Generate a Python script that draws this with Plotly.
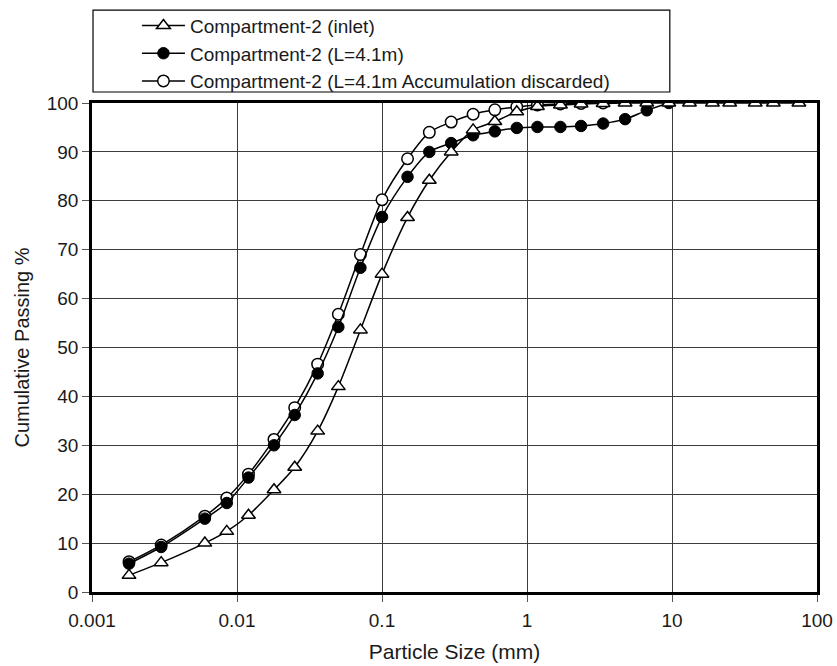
import plotly.graph_objects as go

# Particle sizes (mm)
size_inlet = [0.0018, 0.003, 0.006, 0.0085, 0.012, 0.018, 0.025, 0.036, 0.05, 0.071,
              0.1, 0.15, 0.212, 0.3, 0.425, 0.6, 0.85, 1.18, 1.7, 2.36, 3.35, 4.75,
              6.7, 9.5, 13.2, 19, 25, 37.5, 50, 75]
pass_inlet = [3.4, 6.0, 10.0, 12.4, 15.7, 20.9, 25.5, 32.9, 42.0, 53.6,
              65.0, 76.6, 84.2, 90.0, 94.5, 96.2, 98.2, 99.3, 99.6, 99.8, 99.9, 100,
              100, 100, 100, 100, 100, 100, 100, 100]

size_l41 = [0.0018, 0.003, 0.006, 0.0085, 0.012, 0.018, 0.025, 0.036, 0.05, 0.071,
            0.1, 0.15, 0.212, 0.3, 0.425, 0.6, 0.85, 1.18, 1.7, 2.36, 3.35, 4.75,
            6.7, 9.5]
pass_l41 = [5.8, 9.2, 15.0, 18.2, 23.4, 30.0, 36.2, 44.7, 54.2, 66.3,
            76.7, 84.9, 90.0, 91.8, 93.4, 94.2, 94.9, 95.1, 95.1, 95.3, 95.8, 96.7,
            98.5, 100]

size_disc = [0.0018, 0.003, 0.006, 0.0085, 0.012, 0.018, 0.025, 0.036, 0.05, 0.071,
             0.1, 0.15, 0.212, 0.3, 0.425, 0.6, 0.85, 1.18, 1.7, 2.36, 3.35]
pass_disc = [6.2, 9.6, 15.5, 19.2, 24.1, 31.2, 37.7, 46.6, 56.8, 69.0,
             80.2, 88.6, 94.0, 96.1, 97.7, 98.6, 99.2, 99.6, 99.8, 99.9, 100]

names = ["Compartment-2 (inlet)", "Compartment-2 (L=4.1m)",
         "Compartment-2 (L=4.1m Accumulation discarded)"]

x_tickvals = [0.001, 0.01, 0.1, 1, 10, 100]
x_ticktext = ["0.001", "0.01", "0.1", "1", "10", "100"]
y_tickvals = list(range(0, 101, 10))

FONT = "Liberation Sans, Arial, sans-serif"

fig = go.Figure()

# drawn order: open circles, filled circles, triangles (on top)
fig.add_trace(go.Scatter(
    x=size_disc, y=pass_disc, name=names[2], mode="lines+markers",
    line=dict(color="black", width=1.5, shape="spline", smoothing=0.8),
    marker=dict(symbol="circle", size=11.5, color="white",
                line=dict(color="black", width=1.5)),
    legendrank=3))
fig.add_trace(go.Scatter(
    x=size_l41, y=pass_l41, name=names[1], mode="lines+markers",
    line=dict(color="black", width=1.5, shape="spline", smoothing=0.8),
    marker=dict(symbol="circle", size=11.5, color="black",
                line=dict(color="black", width=1)),
    legendrank=2))
fig.add_trace(go.Scatter(
    x=size_inlet, y=pass_inlet, name=names[0], mode="lines+markers",
    line=dict(color="black", width=1.5, shape="spline", smoothing=0.8),
    marker=dict(symbol="triangle-up", size=12, color="white",
                line=dict(color="black", width=1.5)),
    legendrank=1))

fig.update_layout(
    width=837, height=666,
    margin=dict(l=92, r=20, t=103, b=74, autoexpand=False),
    paper_bgcolor="white", plot_bgcolor="white",
    font=dict(family=FONT, size=19, color="#1a1a1a"),
    showlegend=True,
    legend=dict(x=0.062, y=1.197, xanchor="left", yanchor="top",
                bgcolor="rgba(0,0,0,0)", borderwidth=0,
                font=dict(size=19, color="#1a1a1a"), tracegroupgap=0,
                itemwidth=43),
    shapes=[dict(type="rect", xref="paper", yref="paper",
                 x0=0.0014, x1=0.797, y0=1.0225, y1=1.19,
                 line=dict(color="black", width=1.2), fillcolor="rgba(0,0,0,0)")],
)

fig.update_xaxes(
    type="log", range=[-3, 2],
    tickvals=x_tickvals, ticktext=x_ticktext,
    showgrid=True, gridcolor="#3c3c3c", gridwidth=1.3,
    showline=True, linecolor="black", linewidth=2.5, mirror=True,
    ticks="outside", ticklen=7, tickwidth=1, tickcolor="#555",
    ticklabelstandoff=2,
    tickfont=dict(size=19),
    title=dict(text="Particle Size (mm)", font=dict(size=21), standoff=15),
    zeroline=False, automargin=False,
)
fig.update_yaxes(
    range=[0, 100], tickvals=y_tickvals,
    showgrid=True, gridcolor="#3c3c3c", gridwidth=1.3,
    showline=True, linecolor="black", linewidth=2.5, mirror=True,
    ticks="outside", ticklen=7, tickwidth=1, tickcolor="#555",
    tickfont=dict(size=19),
    title=dict(text="Cumulative Passing %", font=dict(size=20), standoff=12),
    zeroline=False, automargin=False,
)

fig.write_html("out.html")
